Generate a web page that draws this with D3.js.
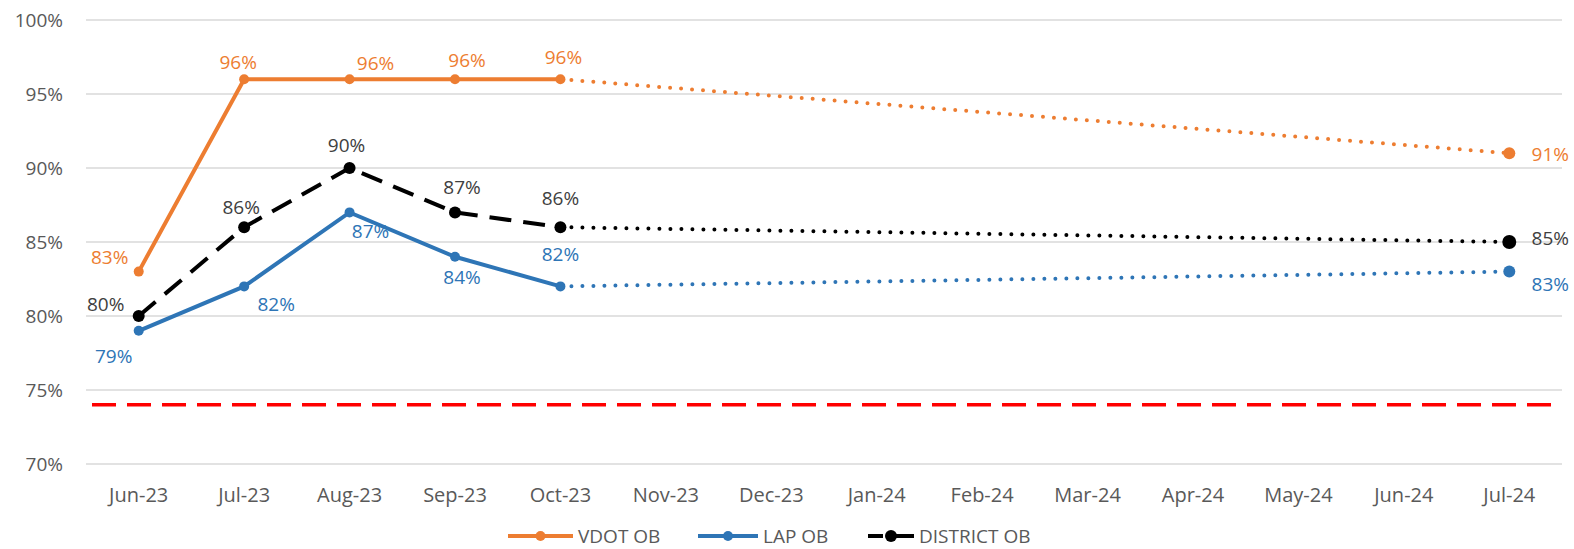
<!DOCTYPE html>
<html>
<head>
<meta charset="utf-8">
<script src="https://cdn.jsdelivr.net/npm/d3@7"></script>
<style>
  body { margin: 0; background: #fff; }
  text { font-family: "Open Sans", "Noto Sans", sans-serif; }
</style>
</head>
<body>
<div id="chart"></div>
<script>
const w = 1574, h = 549

// data
const months = ["Jun-23", "Jul-23", "Aug-23", "Sep-23", "Oct-23", "Nov-23", "Dec-23",
    "Jan-24", "Feb-24", "Mar-24", "Apr-24", "May-24", "Jun-24", "Jul-24"]
const vdotOB = [83, 96, 96, 96, 96, null, null, null, null, null, null, null, null, 91]
const lapOB = [79, 82, 87, 84, 82, null, null, null, null, null, null, null, null, 83]
const districtOB = [80, 86, 90, 87, 86, null, null, null, null, null, null, null, null, 85]
const targetLine = 74
const yTicks = [70, 75, 80, 85, 90, 95, 100]

// label offsets (px from point), by series
const vdotLbl = [[-29, -14], [-6, -17], [26, -16], [12, -19], [3, -22], , , , , , , , , [41, 1]]
const lapLbl = [[-25, 26], [32, 18], [21, 19], [7, 21], [0, -32], , , , , , , , , [41, 13]]
const distLbl = [[-33, -12], [-3, -20], [-3, -23], [7, -25], [0, -29], , , , , , , , , [41, -4]]

const series = [
    { name: "VDOT OB", values: vdotOB, color: "#ED7D31", label: "#ED7D31", dash: null, r: 5, lbl: vdotLbl },
    { name: "LAP OB", values: lapOB, color: "#2E75B6", label: "#2E75B6", dash: null, r: 5, lbl: lapLbl },
    { name: "DISTRICT OB", values: districtOB, color: "#000000", label: "#404040", dash: "22,12", r: 6, lbl: distLbl }
]

//scales
const x = d3.scaleBand()
    .domain(months)
    .range([86, 1562])
const cx = m => x(m) + x.bandwidth() / 2

const y = d3.scaleLinear()
    .domain([70, 100])
    .range([464, 20])

const svg = d3.select("#chart").append("svg")
    .attr("width", w)
    .attr("height", h)

// grid
svg.selectAll("line.grid")
    .data(yTicks)
    .enter()
    .append("line")
    .attr("class", "grid")
    .attr("x1", 86)
    .attr("x2", 1562)
    .attr("y1", d => y(d))
    .attr("y2", d => y(d))
    .attr("stroke", "#D9D9D9")
    .attr("stroke-width", 1.5)

// y axis labels
svg.selectAll("text.ytick")
    .data(yTicks)
    .enter()
    .append("text")
    .attr("class", "ytick")
    .attr("x", 63)
    .attr("y", d => y(d))
    .attr("dy", "0.35em")
    .attr("text-anchor", "end")
    .attr("font-size", 19)
    .attr("fill", "#595959")
    .text(d => d + "%")

// x axis labels
svg.selectAll("text.xtick")
    .data(months)
    .enter()
    .append("text")
    .attr("class", "xtick")
    .attr("x", d => cx(d))
    .attr("y", 495)
    .attr("dy", "0.35em")
    .attr("text-anchor", "middle")
    .attr("font-size", 20)
    .attr("fill", "#595959")
    .text(d => d)

// target line
svg.append("line")
    .attr("x1", 92)
    .attr("x2", 1560)
    .attr("y1", y(targetLine))
    .attr("y2", y(targetLine))
    .attr("stroke", "#FF0000")
    .attr("stroke-width", 3.5)
    .attr("stroke-dasharray", "24,11")

const line = d3.line()
    .x(d => cx(d.m))
    .y(d => y(d.v))

series.forEach(s => {
    const pts = s.values.map((v, i) => ({ m: months[i], v: v, i: i })).filter(d => d.v != null)
    // actual run = leading consecutive months
    let last = 0
    while (last + 1 < s.values.length && s.values[last + 1] != null) last++
    const actual = pts.filter(d => d.i <= last)
    const proj = pts.filter(d => d.i >= last)

    const g = svg.append("g")

    g.append("path")
        .attr("d", line(proj))
        .attr("fill", "none")
        .attr("stroke", s.color)
        .attr("stroke-width", 4)
        .attr("stroke-linecap", "round")
        .attr("stroke-dasharray", "0,11")

    g.append("path")
        .attr("d", line(actual))
        .attr("fill", "none")
        .attr("stroke", s.color)
        .attr("stroke-width", 4)
        .attr("stroke-dasharray", s.dash)

    g.selectAll("circle")
        .data(pts)
        .enter()
        .append("circle")
        .attr("cx", d => cx(d.m))
        .attr("cy", d => y(d.v))
        .attr("r", d => d.i == months.length - 1 ? s.r + 1 : s.r)
        .attr("fill", s.color)

    g.selectAll("text")
        .data(pts)
        .enter()
        .append("text")
        .attr("x", d => cx(d.m) + s.lbl[d.i][0])
        .attr("y", d => y(d.v) + s.lbl[d.i][1])
        .attr("dy", "0.35em")
        .attr("text-anchor", "middle")
        .attr("font-size", 19)
        .attr("fill", s.label)
        .text(d => d.v + "%")
})

// legend
const legX = [508, 698, 868]
const legW = [65, 60, 46]
const legend = svg.selectAll("g.legend")
    .data(series)
    .enter()
    .append("g")
    .attr("class", "legend")
    .attr("transform", (d, i) => "translate(" + legX[i] + ",536)")

legend.append("line")
    .attr("x1", 0)
    .attr("x2", (d, i) => legW[i])
    .attr("stroke", d => d.color)
    .attr("stroke-width", 4)
    .attr("stroke-dasharray", d => d.dash ? "15,6,25" : null)

legend.append("circle")
    .attr("cx", (d, i) => legW[i] / 2)
    .attr("r", d => d.r)
    .attr("fill", d => d.color)

legend.append("text")
    .attr("x", (d, i) => legW[i] + 5)
    .attr("dy", "0.35em")
    .attr("font-size", 19)
    .attr("fill", "#595959")
    .text(d => d.name)
</script>
</body>
</html>
